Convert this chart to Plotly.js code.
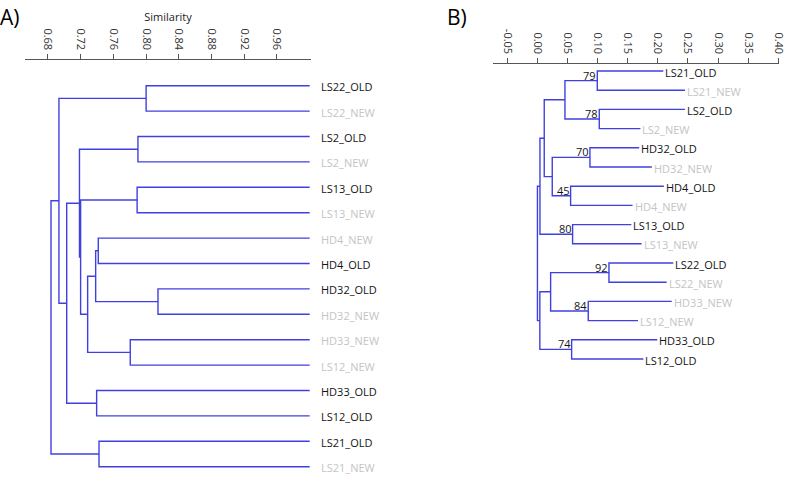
<!DOCTYPE html>
<html>
<head>
<meta charset="utf-8">
<script src="https://cdn.plot.ly/plotly-3.0.1.min.js"></script>
<style>html,body{margin:0;padding:0;background:#fff;}#chart{width:787px;height:479px;}</style>
</head>
<body>
<div id="chart"></div>
<script>
// ---------- Panel A: UPGMA-style similarity dendrogram ----------
const leavesA = ['LS22_OLD','LS22_NEW','LS2_OLD','LS2_NEW','LS13_OLD','LS13_NEW','HD4_NEW','HD4_OLD',
                 'HD32_OLD','HD32_NEW','HD33_NEW','LS12_NEW','HD33_OLD','LS12_OLD','LS21_OLD','LS21_NEW'];
const leafSimA = 1.0;
// merges: node 16 onwards, children indices and similarity at merge
const mergeA_left  = [0, 2, 4, 6, 8, 19, 10, 21, 18, 17, 12, 25, 16, 14, 28];
const mergeA_right = [1, 3, 5, 7, 9, 20, 11, 22, 23, 24, 13, 26, 27, 15, 29];
const mergeA_sim   = [0.800, 0.790, 0.789, 0.7415, 0.8145, 0.7383, 0.7806, 0.7285, 0.7199, 0.7185, 0.7395, 0.7029, 0.6934, 0.7424, 0.6837];
const ticksA = [0.68, 0.72, 0.76, 0.80, 0.84, 0.88, 0.92, 0.96];
const tickTextA = ['0.68','0.72','0.76','0.80','0.84','0.88','0.92','0.96'];

// ---------- Panel B: neighbour-joining tree with bootstrap ----------
const leavesB = ['LS21_OLD','LS21_NEW','LS2_OLD','LS2_NEW','HD32_OLD','HD32_NEW','HD4_OLD','HD4_NEW',
                 'LS13_OLD','LS13_NEW','LS22_OLD','LS22_NEW','HD33_NEW','LS12_NEW','HD33_OLD','LS12_OLD'];
const tipsB = [0.209, 0.245, 0.245, 0.171, 0.169, 0.190, 0.210, 0.158, 0.156, 0.173, 0.2256, 0.2146, 0.223, 0.167, 0.199, 0.176];
const mergeB_left  = [0, 2, 16, 4, 6, 19, 18, 8, 22, 10, 12, 25, 14, 27, 24];
const mergeB_right = [1, 3, 17, 5, 7, 20, 21, 9, 23, 11, 13, 26, 15, 28, 29];
const mergeB_dist  = [0.0994, 0.1027, 0.0457, 0.0872, 0.0551, 0.0246, 0.0113, 0.0584, 0.0042, 0.1188, 0.0844, 0.0219, 0.0568, 0.0040, 0.0000];
const bootstrapB   = [79, 78, null, 70, 45, null, null, 80, null, 92, 84, null, 74, null, null];
const ticksB = [-0.05, 0.00, 0.05, 0.10, 0.15, 0.20, 0.25, 0.30, 0.35, 0.40];
const tickTextB = ['-0.05','0.00','0.05','0.10','0.15','0.20','0.25','0.30','0.35','0.40'];

// ---------- styling / geometry ----------
const W = 787, H = 479;
const lineColor = '#4040e0';
const oldColor = '#141414', newColor = '#c4c4c4';
const FONT = 'Open Sans, sans-serif';

function buildTree(leafX, mL, mR, mX) {
  const xs = leafX.slice(), ys = leafX.map((_, i) => i);
  const lx = [], ly = [];
  for (let k = 0; k < mL.length; k++) {
    const a = mL[k], b = mR[k], h = mX[k];
    lx.push(xs[a], h, h, xs[b], null);
    ly.push(ys[a], ys[a], ys[b], ys[b], null);
    xs.push(h); ys.push((ys[a] + ys[b]) / 2);
  }
  return {lx, ly, xs, ys};
}

const treeA = buildTree(leavesA.map(() => leafSimA), mergeA_left, mergeA_right, mergeA_sim);
const treeB = buildTree(tipsB, mergeB_left, mergeB_right, mergeB_dist);

// y ranges so that leaves sit at the same pixel rows as the reference
function yRange(topPx, stepPx) {
  const b = -topPx / stepPx;
  return [b + H / stepPx, b];
}

const traces = [
  {x: treeA.lx, y: treeA.ly, xaxis: 'x', yaxis: 'y', mode: 'lines', type: 'scatter',
   line: {color: lineColor, width: 1.4}, hoverinfo: 'skip', showlegend: false},
  {x: treeB.lx, y: treeB.ly, xaxis: 'x2', yaxis: 'y2', mode: 'lines', type: 'scatter',
   line: {color: lineColor, width: 1.4}, hoverinfo: 'skip', showlegend: false}
];

const annotations = [];
leavesA.forEach((name, i) => {
  annotations.push({xref: 'x', yref: 'y', x: leafSimA, y: i, text: name, showarrow: false,
    xanchor: 'left', yanchor: 'middle', xshift: 9, yshift: -1,
    font: {family: FONT, size: 11, color: name.endsWith('OLD') ? oldColor : newColor}});
});
leavesB.forEach((name, i) => {
  annotations.push({xref: 'x2', yref: 'y2', x: tipsB[i], y: i, text: name, showarrow: false,
    xanchor: 'left', yanchor: 'middle', xshift: 0, yshift: -1,
    font: {family: FONT, size: 11, color: name.endsWith('OLD') ? oldColor : newColor}});
});
bootstrapB.forEach((v, k) => {
  if (v === null) return;
  const upper = mergeB_left[k];
  annotations.push({xref: 'x2', yref: 'y2', x: mergeB_dist[k], y: treeB.ys[upper], text: String(v),
    showarrow: false, xanchor: 'right', yanchor: 'middle', xshift: 1, yshift: -4,
    font: {family: FONT, size: 11, color: '#141414'}});
});
annotations.push({xref: 'paper', yref: 'paper', x: 0, y: 1 - 17 / H, text: 'A)', showarrow: false,
  xanchor: 'left', yanchor: 'middle', xshift: -2, font: {family: FONT, size: 21, color: '#000'}});
annotations.push({xref: 'paper', yref: 'paper', x: 445 / W, y: 1 - 17 / H, text: 'B)', showarrow: false,
  xanchor: 'left', yanchor: 'middle', font: {family: FONT, size: 21, color: '#000'}});

const axisCommon = {
  side: 'top', anchor: 'free', showgrid: false, zeroline: false, showline: true,
  linecolor: '#555', linewidth: 1, ticks: 'outside', ticklen: 5, tickcolor: '#555', tickwidth: 1,
  tickangle: 90, tickmode: 'array', tickfont: {family: FONT, size: 11, color: '#333'}, fixedrange: true
};

const layout = {
  width: W, height: H, margin: {l: 0, r: 0, t: 0, b: 0},
  paper_bgcolor: '#fff', plot_bgcolor: '#fff', showlegend: false,
  xaxis: Object.assign({}, axisCommon, {
    domain: [25 / W, 311 / W], range: [0.6519, 1.0016], position: 1 - 59 / H,
    tickvals: ticksA, ticktext: tickTextA,
    title: {text: 'Similarity', font: {family: FONT, size: 11, color: '#222'}, standoff: 3}
  }),
  xaxis2: Object.assign({}, axisCommon, {
    domain: [492.7 / W, 779.3 / W], range: [-0.0743, 0.4017], position: 1 - 63 / H,
    tickvals: ticksB, ticktext: tickTextB
  }),
  yaxis: {domain: [0, 1], range: yRange(85.7, 25.4), anchor: 'x', visible: false, fixedrange: true},
  yaxis2: {domain: [0, 1], range: yRange(71, 19.2), anchor: 'x2', visible: false, fixedrange: true},
  annotations: annotations
};

Plotly.newPlot('chart', traces, layout, {displayModeBar: false, staticPlot: true});
</script>
</body>
</html>
